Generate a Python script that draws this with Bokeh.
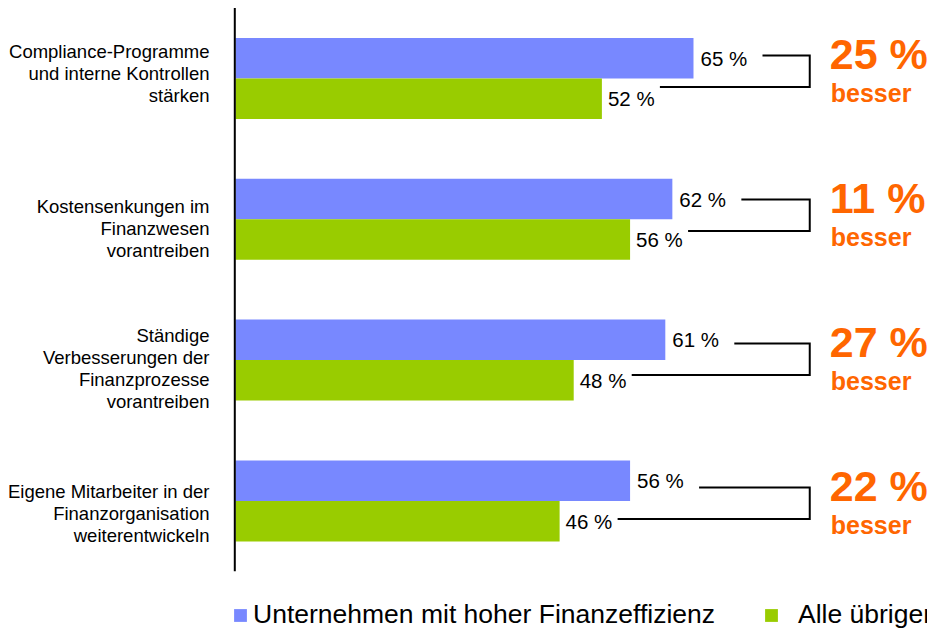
from bokeh.plotting import figure
from bokeh.models import Range1d, Legend, LegendItem
from bokeh.embed import file_html
from bokeh.resources import INLINE
from bokeh.core.properties import value

# ---------------- data ----------------
categories = [
    "Compliance-Programme\nund interne Kontrollen\nstärken",
    "Kostensenkungen im\nFinanzwesen\nvorantreiben",
    "Ständige\nVerbesserungen der\nFinanzprozesse\nvorantreiben",
    "Eigene Mitarbeiter in der\nFinanzorganisation\nweiterentwickeln",
]
high_efficiency = [65, 62, 61, 56]
others = [52, 56, 48, 46]
improvement_labels = ["25 %", "11 %", "27 %", "22 %"]
improvement_word = "besser"
series_names = ["Unternehmen mit hoher Finanzeffizienz", "Alle übrigen"]

# ---------------- layout constants ----------------
W, H = 927, 628
x0_px = 235.0        # canvas pixel of value 0
x_scale = 7.046      # pixels per percent
y0_px = 78.0         # canvas pixel of first group centre
y_step = 140.8       # pixels between groups
bar_px = 40.5
label_nudge_px = [-5, 9, 8, 13]   # vertical nudge of the category text blocks
annot_step_px = 144.0             # spacing of the bracket annotations
annot_top_px = -23.0              # bracket top relative to first group centre
FONT = "Liberation Sans"
BLUE = "#7888ff"
GREEN = "#99cc00"
ORANGE = "#ff6600"

n = len(categories)
idx = list(range(n))
bh = bar_px / y_step


def py(px):
    """pixel offset -> data units (y)"""
    return px / y_step


p = figure(width=W, height=H, output_backend="svg", toolbar_location=None,
           x_axis_location=None, y_axis_location=None, min_border=0,
           x_range=Range1d(-x0_px / x_scale, (W - x0_px) / x_scale),
           y_range=Range1d((H - y0_px) / y_step, -y0_px / y_step))
p.outline_line_color = None
for g in p.grid:
    g.visible = False
p.background_fill_color = "white"
p.border_fill_color = "white"

blue_y = [i - bh / 2 for i in idx]
green_y = [i + bh / 2 for i in idx]

r_blue = p.hbar(y=blue_y, left=0, right=high_efficiency, height=bh,
                fill_color=BLUE, line_color=None)
r_green = p.hbar(y=green_y, left=0, right=others, height=bh,
                 fill_color=GREEN, line_color=None)

# vertical axis line
p.segment(x0=[-0.1], y0=[-0.5], x1=[-0.1], y1=[n - 0.5], line_color="black", line_width=2)

# value labels
p.text(x=high_efficiency, y=blue_y, text=[f"{v} %" for v in high_efficiency],
       x_offset=7, text_align="left", text_baseline="middle",
       text_font=value(FONT), text_font_size="20.5px", text_color="black")
p.text(x=others, y=green_y, text=[f"{v} %" for v in others],
       x_offset=6, text_align="left", text_baseline="middle",
       text_font=value(FONT), text_font_size="20.5px", text_color="black")

# category labels
p.text(x=[0] * n, y=[i + py(label_nudge_px[i]) for i in idx], text=categories,
       x_offset=-26, text_align="right", text_baseline="middle",
       text_font=value(FONT), text_font_size="18.5px", text_line_height=1.05,
       text_color="black")

# brackets
bracket_x = 81.5
annot_y = [py(annot_top_px + annot_step_px * i) for i in idx]
xs, ys = [], []
for i in idx:
    ty = annot_y[i]
    by = annot_y[i] + py(31.5)
    xs.append([high_efficiency[i] + 69 / x_scale, bracket_x, bracket_x, others[i] + 58 / x_scale])
    ys.append([ty, ty, by, by])
p.multi_line(xs=xs, ys=ys, line_color="black", line_width=2, line_join="miter")

# improvement texts
p.text(x=[bracket_x] * n, y=[a + py(-1.5) for a in annot_y], text=improvement_labels,
       x_offset=20, text_align="left", text_baseline="middle",
       text_font=value(FONT), text_font_size="43px", text_font_style="bold",
       text_color=ORANGE)
p.text(x=[bracket_x] * n, y=[a + py(37.5) for a in annot_y], text=[improvement_word] * n,
       x_offset=21, text_align="left", text_baseline="middle",
       text_font=value(FONT), text_font_size="25px", text_font_style="bold",
       text_color=ORANGE)

# legends
common = dict(orientation="horizontal", label_text_font_size="26.5px",
              label_text_font=FONT, glyph_width=16, glyph_height=16,
              padding=0, margin=0, border_line_color=None,
              background_fill_alpha=0, label_text_color="black")
leg1 = Legend(items=[LegendItem(label=series_names[0], renderers=[r_blue])],
              location=(232, -2), label_standoff=5, **common)
leg2 = Legend(items=[LegendItem(label=series_names[1], renderers=[r_green])],
              location=(763, -2), label_standoff=19, **common)
p.add_layout(leg1)
p.add_layout(leg2)

open("out.html", "w").write(file_html(p, INLINE))
